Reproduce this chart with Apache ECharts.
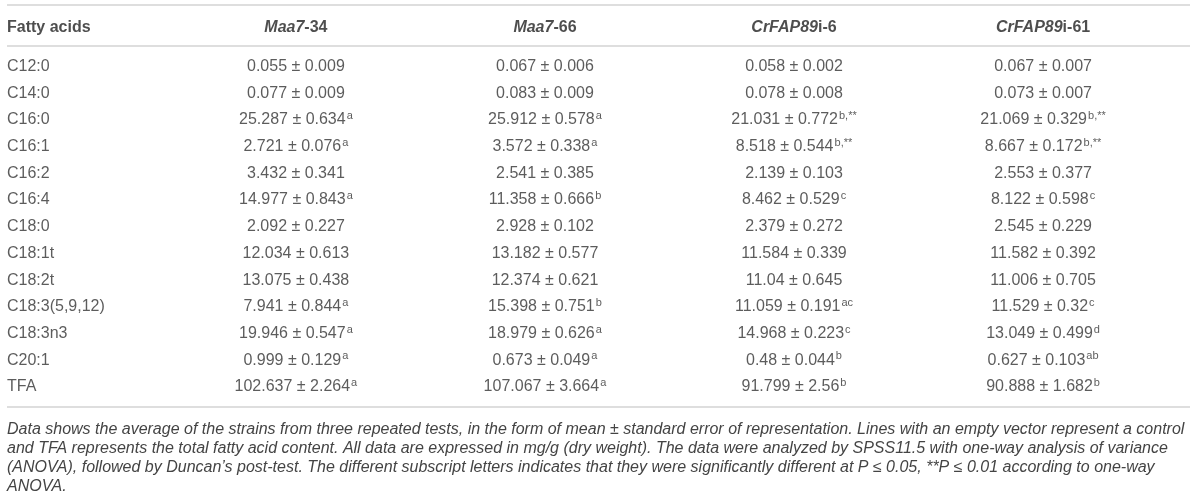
<!DOCTYPE html>
<html>
<head>
<meta charset="utf-8">
<script src="https://cdn.jsdelivr.net/npm/echarts@6/dist/echarts.min.js"></script>
<style>
  html, body { margin: 0; padding: 0; background: #fff; }
  #main { width: 1200px; height: 497px; }
</style>
</head>
<body>
<div id="main"></div>
<script>
// 表格数据
var fattyAcids = ['C12:0', 'C14:0', 'C16:0', 'C16:1', 'C16:2', 'C16:4', 'C18:0',
  'C18:1t', 'C18:2t', 'C18:3(5,9,12)', 'C18:3n3', 'C20:1', 'TFA'];

var maa7_34Mean = [0.055, 0.077, 25.287, 2.721, 3.432, 14.977, 2.092, 12.034, 13.075, 7.941, 19.946, 0.999, 102.637];
var maa7_34Se   = [0.009, 0.009, 0.634, 0.076, 0.341, 0.843, 0.227, 0.613, 0.438, 0.844, 0.547, 0.129, 2.264];
var maa7_34Sig  = ['', '', 'a', 'a', '', 'a', '', '', '', 'a', 'a', 'a', 'a'];

var maa7_66Mean = [0.067, 0.083, 25.912, 3.572, 2.541, 11.358, 2.928, 13.182, 12.374, 15.398, 18.979, 0.673, 107.067];
var maa7_66Se   = [0.006, 0.009, 0.578, 0.338, 0.385, 0.666, 0.102, 0.577, 0.621, 0.751, 0.626, 0.049, 3.664];
var maa7_66Sig  = ['', '', 'a', 'a', '', 'b', '', '', '', 'b', 'a', 'a', 'a'];

var fap6Mean = [0.058, 0.078, 21.031, 8.518, 2.139, 8.462, 2.379, 11.584, 11.04, 11.059, 14.968, 0.48, 91.799];
var fap6Se   = [0.002, 0.008, 0.772, 0.544, 0.103, 0.529, 0.272, 0.339, 0.645, 0.191, 0.223, 0.044, 2.56];
var fap6Sig  = ['', '', 'b,**', 'b,**', '', 'c', '', '', '', 'ac', 'c', 'b', 'b'];

var fap61Mean = [0.067, 0.073, 21.069, 8.667, 2.553, 8.122, 2.545, 11.582, 11.006, 11.529, 13.049, 0.627, 90.888];
var fap61Se   = [0.007, 0.007, 0.329, 0.172, 0.377, 0.598, 0.229, 0.392, 0.705, 0.32, 0.499, 0.103, 1.682];
var fap61Sig  = ['', '', 'b,**', 'b,**', '', 'c', '', '', '', 'c', 'd', 'ab', 'b'];

// 表头: [斜体部分, 正体部分]
var headers = [['', 'Fatty acids'], ['Maa7', '-34'], ['Maa7', '-66'], ['CrFAP89', 'i-6'], ['CrFAP89', 'i-61']];

var footnote = [
  'Data shows the average of the strains from three repeated tests, in the form of mean \u00b1 standard error of representation. Lines with an empty vector represent a control',
  'and TFA represents the total fatty acid content. All data are expressed in mg/g (dry weight). The data were analyzed by SPSS11.5 with one-way analysis of variance',
  '(ANOVA), followed by Duncan\u2019s post-test. The different subscript letters indicates that they were significantly different at P \u2264 0.05, **P \u2264 0.01 according to one-way',
  'ANOVA.'
];

// 版面位置 (行坐标单位)
var HEADER_ROW = -1.45;
var TOP_RULE = -2.3;
var HEAD_RULE = -0.78;
var BOTTOM_RULE = 12.75;
var FIRST_COL = -0.16;

var strains = [
  [maa7_34Mean, maa7_34Se, maa7_34Sig],
  [maa7_66Mean, maa7_66Se, maa7_66Sig],
  [fap6Mean, fap6Se, fap6Sig],
  [fap61Mean, fap61Se, fap61Sig]
];

var cells = [];
fattyAcids.forEach(function (name, r) {
  cells.push({ value: [FIRST_COL, r], text: '{v|' + name + '}', label: { align: 'left' } });
  strains.forEach(function (s, c) {
    var t = s[0][r] + ' \u00b1 ' + s[1][r];
    var txt = s[2][r] ? '{v|' + t + '}{sup|' + s[2][r] + '}' : '{v|' + t + '}';
    cells.push({ value: [c + 1, r], text: txt });
  });
});

var headCells = headers.map(function (h, c) {
  var txt = (h[0] ? '{it|' + h[0] + '}' : '') + '{b|' + h[1] + '}';
  return {
    value: [c === 0 ? FIRST_COL : c, HEADER_ROW],
    text: txt,
    label: c === 0 ? { align: 'left' } : {}
  };
});

var FONT = '"Liberation Sans", Arial, Helvetica, sans-serif';
var rich = {
  v: { fontFamily: FONT, fontSize: 16, color: '#333', lineHeight: 19 },
  sup: { fontFamily: FONT, fontSize: 11, color: '#333', verticalAlign: 'top', lineHeight: 19, padding: [0, 0, 0, 1] },
  it: { fontFamily: FONT, fontSize: 16, fontWeight: 'bold', fontStyle: 'italic', color: '#222', lineHeight: 19 },
  b: { fontFamily: FONT, fontSize: 16, fontWeight: 'bold', color: '#222', lineHeight: 19 }
};

var myChart = echarts.init(document.getElementById('main'));
myChart.setOption({
  animation: false,
  title: {
    text: footnote.join('\n'),
    left: 7,
    top: 420,
    padding: 0,
    textStyle: {
      fontFamily: FONT,
      fontSize: 16,
      fontStyle: 'italic',
      fontWeight: 'normal',
      color: '#444',
      lineHeight: 19
    }
  },
  grid: { left: 7, right: 10, top: 5, height: 402 },
  xAxis: { type: 'value', min: FIRST_COL, max: 4.59, show: false },
  yAxis: { type: 'value', inverse: true, min: TOP_RULE, max: BOTTOM_RULE, show: false },
  series: [
    {
      type: 'scatter',
      symbolSize: 0,
      silent: true,
      data: cells,
      label: {
        show: true,
        position: 'inside',
        align: 'center',
        formatter: function (p) { return p.data.text; },
        rich: rich
      },
      markLine: {
        silent: true,
        symbol: 'none',
        label: { show: false },
        lineStyle: { type: 'solid', color: '#dedede', width: 2 },
        data: [{ yAxis: TOP_RULE }, { yAxis: HEAD_RULE }, { yAxis: BOTTOM_RULE }]
      }
    },
    {
      type: 'scatter',
      symbolSize: 0,
      silent: true,
      data: headCells,
      label: {
        show: true,
        position: 'inside',
        align: 'center',
        formatter: function (p) { return p.data.text; },
        rich: rich
      }
    }
  ]
});
</script>
</body>
</html>
